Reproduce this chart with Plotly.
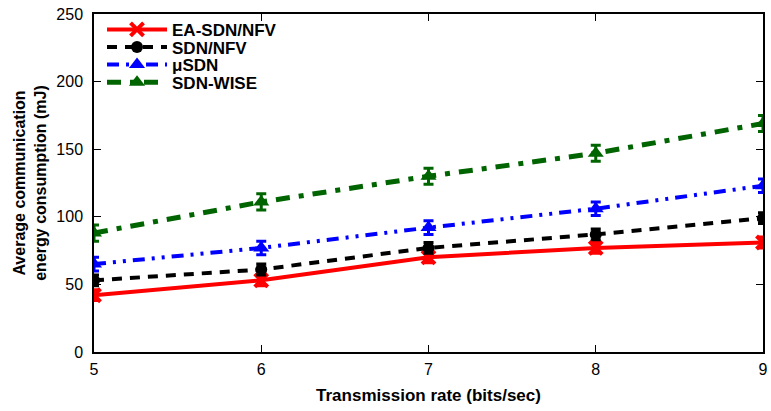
import plotly.graph_objects as go

# Transmission rate (bits/sec)
rates = [5, 6, 7, 8, 9]

# Average communication energy consumption (mJ) per scheme
ea_sdn_nfv = [42, 53, 70, 77, 81]
sdn_nfv = [53, 61, 77, 87, 99]
mu_sdn = [65, 77, 92, 106, 123]
sdn_wise = [88, 111, 130, 147, 169]

# Error-bar half widths (mJ)
ea_err = [4, 4, 4, 4, 4]
sdn_nfv_err = [4, 4, 4, 4, 4]
mu_err = [5, 5, 5, 5, 5]
wise_err = [6, 6, 6, 6, 6]

y_ticks = [0, 50, 100, 150, 200, 250]

FONT = "Liberation Sans, Arial, sans-serif"

series = [
    ("EA-SDN/NFV", ea_sdn_nfv, ea_err, "#ff0000", "solid", "x-thin-open", 4),
    ("SDN/NFV", sdn_nfv, sdn_nfv_err, "#000000", "10px,8px", "circle", 4),
    ("\u03bcSDN", mu_sdn, mu_err, "#0000ff", "12px,7px,3px,7px,3px,7px", "triangle-up", 4),
    ("SDN-WISE", sdn_wise, wise_err, "#006400", "14px,9px,5px,9px", "triangle-up", 5),
]

# one compact legend box per series, stacked tightly in the upper-left corner
legend_ids = ["legend", "legend2", "legend3", "legend4"]
legend_y = [0.953, 0.901, 0.849, 0.797]

fig = go.Figure()
for (name, vals, err, color, dash, symbol, width), lid in zip(series, legend_ids):
    size = 13 if symbol.startswith("x") else (12 if symbol == "circle" else 14)
    fig.add_trace(go.Scatter(
        x=rates, y=vals, name="<b>" + name + "</b>", mode="lines+markers",
        legend=lid,
        line=dict(color=color, width=width, dash=dash),
        marker=dict(symbol=symbol, size=size, color=color,
                    line=dict(color=color, width=4 if symbol.startswith("x") else 0)),
        error_y=dict(type="data", array=err, visible=True, color=color,
                     thickness=3, width=5),
    ))

axis_common = dict(
    showline=True, linecolor="black", linewidth=1.5, mirror="ticks",
    ticks="inside", ticklen=7, tickcolor="black", tickwidth=1,
    showgrid=False, zeroline=False,
    tickfont=dict(family=FONT, size=16, color="black"),
)

layout_legends = {}
for lid, ly in zip(legend_ids, legend_y):
    layout_legends[lid] = dict(
        x=0.012, y=ly, xanchor="left", yanchor="middle",
        bgcolor="rgba(0,0,0,0)", borderwidth=0,
        font=dict(family=FONT, size=17, color="black"), itemwidth=60,
    )

fig.update_layout(
    width=771, height=411,
    margin=dict(l=94, r=3, t=14, b=59),
    plot_bgcolor="white", paper_bgcolor="white",
    font=dict(family=FONT, color="black"),
    xaxis=dict(range=[5, 9], tickvals=rates, ticklabelstandoff=2,
               title=dict(text="<b>Transmission rate (bits/sec)</b>",
                          font=dict(size=17), standoff=12),
               **axis_common),
    yaxis=dict(range=[0, 250], tickvals=y_ticks, ticklabelstandoff=6,
               title=dict(text="<b>Average communication<br>energy consumption (mJ)</b>",
                          font=dict(size=16), standoff=6),
               **axis_common),
    showlegend=True,
    **layout_legends,
)

fig.write_html("out.html")
